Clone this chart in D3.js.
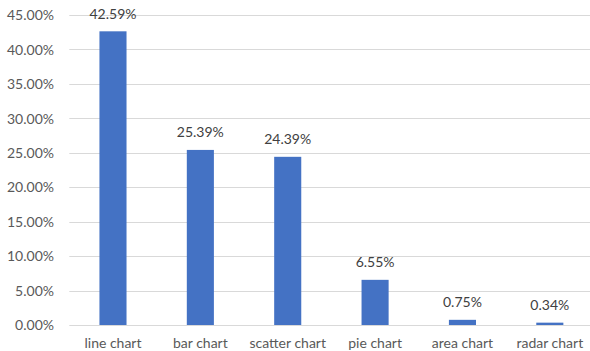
<!DOCTYPE html>
<html><head><meta charset="utf-8">
<script src="https://cdn.jsdelivr.net/npm/d3@7"></script>
<style>
html,body{margin:0;padding:0;background:#fff;}
svg{display:block;font-family:Lato,"Open Sans",sans-serif;}
</style></head>
<body>
<svg id="chart" width="590" height="351"></svg>
<script>
const categories = ["line chart","bar chart","scatter chart","pie chart","area chart","radar chart"];
const values = [42.59,25.39,24.39,6.55,0.75,0.34];
const yTicks = [0,5,10,15,20,25,30,35,40,45];

const svg = d3.select("#chart");
const margin = {left:69.3, right:-3.5, top:14.7, bottom:26};
const W = 590, H = 351;
const x = d3.scaleBand().domain(categories).range([margin.left, W - margin.right]).paddingInner(0.69).paddingOuter(0.345);
const y = d3.scaleLinear().domain([0,45]).range([325, 14.7]);

const grid = svg.append("g");
grid.selectAll("line").data(yTicks).join("line")
  .attr("x1", margin.left).attr("x2", W)
  .attr("y1", d=>Math.round(y(d))+0.5).attr("y2", d=>Math.round(y(d))+0.5)
  .attr("stroke", "#d9d9d9").attr("stroke-width", 1);

const yAxis = d3.axisLeft(y).tickValues(yTicks).tickSize(0).tickPadding(0).tickFormat(d=>d.toFixed(2)+"%");
const ya = svg.append("g").attr("transform","translate(54,0)").call(yAxis);
ya.select(".domain").remove();
ya.selectAll("text").attr("fill","#595959").attr("font-size","14px").attr("font-family","Lato,sans-serif").attr("dy","0.35em");

svg.append("g").selectAll("rect").data(values).join("rect")
  .attr("x",(d,i)=>x(categories[i]))
  .attr("width",x.bandwidth())
  .attr("y",d=>y(d))
  .attr("height",d=>y(0)-y(d))
  .attr("fill","#4472c4");

svg.append("g").selectAll("text").data(values).join("text")
  .attr("x",(d,i)=>x(categories[i])+x.bandwidth()/2)
  .attr("y",d=>y(d)-12.5)
  .attr("text-anchor","middle")
  .attr("fill","#404040").attr("font-size","14px")
  .text(d=>d.toFixed(2)+"%");

const xAxis = d3.axisBottom(x).tickSize(0).tickPadding(0);
const xa = svg.append("g").attr("transform","translate(0,335)").call(xAxis);
xa.select(".domain").remove();
xa.selectAll("text").attr("fill","#595959").attr("font-size","14px").attr("font-family","Lato,sans-serif").attr("dy","0.9em");
</script>
</body></html>
